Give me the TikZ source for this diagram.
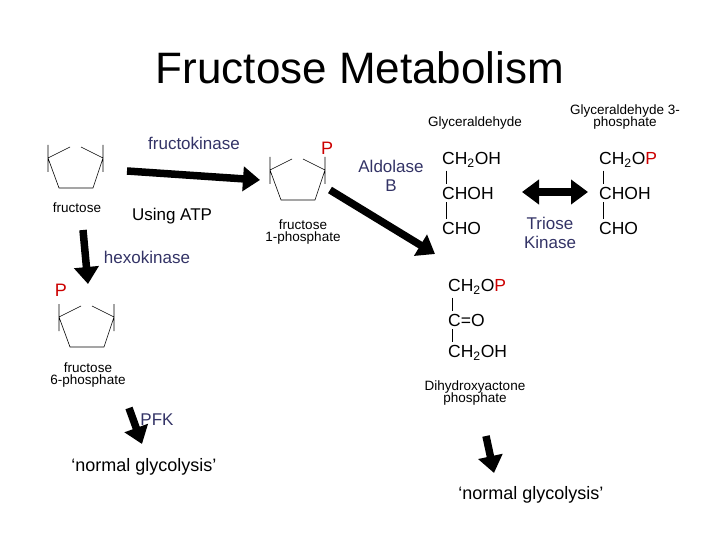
\documentclass[tikz,border=0pt]{standalone}
\usepackage{fontspec}
\setmainfont{Liberation Sans}
\usetikzlibrary{arrows.meta}
\definecolor{enz}{HTML}{333366}
\definecolor{pred}{HTML}{CC0000}
\begin{document}
\begin{tikzpicture}[x=1pt,y=-1pt,
  big/.style={line width=7.5pt,-{Triangle[length=17pt,width=24pt]}},
  dbig/.style={line width=7.5pt,{Triangle[length=17pt,width=24pt]}-{Triangle[length=17pt,width=24pt]}},
  enzlab/.style={text=enz,font=\fontsize{17}{19}\selectfont},
  small/.style={font=\fontsize{13.5}{14}\selectfont,align=center},
  chem/.style={anchor=west,inner sep=0pt,font=\fontsize{17.5}{18}\selectfont},
  bond/.style={line width=0.6pt},
  pp/.style={text=pred,font=\fontsize{18}{18}\selectfont},
  ring/.pic={\draw[line width=0.6pt] (0,-13)--(0,14) (55,-13)--(55,14)
     (0,0)--(22,-11) (33,-11)--(55,0) (0,0)--(11,30)--(45,30)--(55,0);}]
\useasboundingbox (0,0) rectangle (720,540);
\node (title) at (360,68) {\fontsize{44}{48}\selectfont Fructose Metabolism};
% rings
\pic at (48,158) {ring};
\pic at (270,170) {ring};
\pic at (59,317) {ring};
\node[small] (fru) at (77,208) {fructose};
\node[small] (f1p) at (303,232) {fructose\\[-2pt]1-phosphate};
\node[small] (f6p) at (88,375) {fructose\\[-2pt]6-phosphate};
\node[pp] (p1) at (327,148) {P};
\node[pp] (p6) at (61,290) {P};
% enzyme labels
\node[enzlab] (fk) at (194,143) {fructokinase};
\node[font=\fontsize{17}{19}\selectfont] (atp) at (172,216) {Using ATP};
\node[enzlab] (hk) at (147,257) {hexokinase};
\node[enzlab,align=center] (ald) at (391,176) {Aldolase\\B};
\node[enzlab,align=center] (tk) at (550,233) {Triose\\Kinase};
\node[enzlab] (pfk) at (157,420) {PFK};
% arrows
\coordinate (a1s) at (127,171); \coordinate (a1e) at (260,180);
\draw[big] (a1s) -- (a1e);
\coordinate (a2s) at (83,230); \coordinate (a2e) at (88,284);
\draw[big] (a2s) -- (a2e);
\coordinate (a3s) at (330,190); \coordinate (a3e) at (435,254);
\draw[big] (a3s) -- (a3e);
\coordinate (a4s) at (522,192); \coordinate (a4e) at (588,192);
\draw[dbig] (a4s) -- (a4e);
\coordinate (a5s) at (129,408); \coordinate (a5e) at (142,444);
\draw[big] (a5s) -- (a5e);
\coordinate (a6s) at (486,436); \coordinate (a6e) at (494,473);
\draw[big] (a6s) -- (a6e);
% glyceraldehyde
\node[small] (gl) at (475,123) {Glyceraldehyde};
\node[chem] (g1) at (442,160) {CH\textsubscript{2}OH};
\node[chem] (g2) at (442,193) {CHOH};
\node[chem] (g3) at (442,228) {CHO};
\draw[bond] ([xshift=4pt,yshift=-3pt]g1.south west) -- ([xshift=4pt,yshift=3pt]g2.north west);
\draw[bond] ([xshift=4pt,yshift=-3pt]g2.south west) -- ([xshift=4pt,yshift=3pt]g3.north west);
% G3P
\node[small] (g3pl) at (625,117) {Glyceraldehyde 3-\\[-2pt]phosphate};
\node[chem] (h1) at (599,160) {CH\textsubscript{2}O\textcolor{pred}{P}};
\node[chem] (h2) at (599,193) {CHOH};
\node[chem] (h3) at (599,228) {CHO};
\draw[bond] ([xshift=4pt,yshift=-3pt]h1.south west) -- ([xshift=4pt,yshift=3pt]h2.north west);
\draw[bond] ([xshift=4pt,yshift=-3pt]h2.south west) -- ([xshift=4pt,yshift=3pt]h3.north west);
% DHAP
\node[chem] (d1) at (448,287) {CH\textsubscript{2}O\textcolor{pred}{P}};
\node[chem] (d2) at (448,320) {C=O};
\node[chem] (d3) at (448,353) {CH\textsubscript{2}OH};
\draw[bond] ([xshift=4pt,yshift=-3pt]d1.south west) -- ([xshift=4pt,yshift=3pt]d2.north west);
\draw[bond] ([xshift=4pt,yshift=-3pt]d2.south west) -- ([xshift=4pt,yshift=3pt]d3.north west);
\node[small] (dl) at (475,393) {Dihydroxyactone\\[-2pt]phosphate};
% glycolysis
\node[font=\fontsize{18}{20}\selectfont] (gly1) at (144,467) {‘normal glycolysis’};
\node[font=\fontsize{18}{20}\selectfont] (gly2) at (531,495) {‘normal glycolysis’};
\end{tikzpicture}
\end{document}
